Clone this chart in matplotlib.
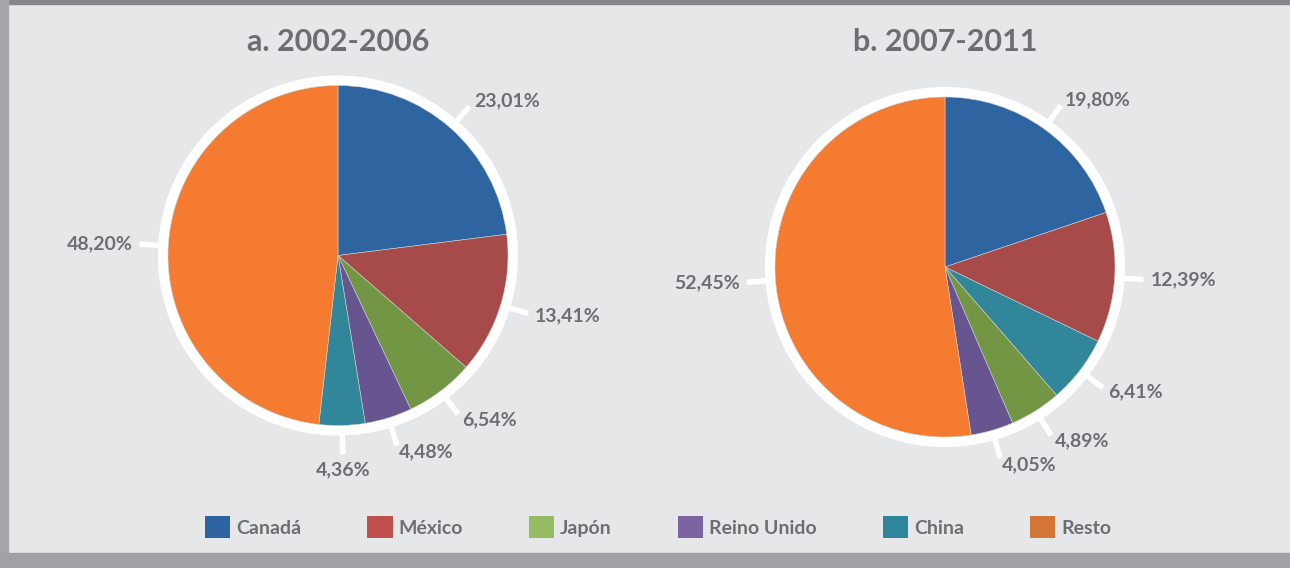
import matplotlib.pyplot as plt
from matplotlib.patches import Circle, Rectangle, Patch
import numpy as np

# datos
paises = ['Canadá', 'México', 'Japón', 'Reino Unido', 'China', 'Resto']
titulo_a = 'a. 2002-2006'
titulo_b = 'b. 2007-2011'
# orden de las porciones en cada periodo
orden_a = ['Canadá', 'México', 'Japón', 'Reino Unido', 'China', 'Resto']
valores_a = [23.01, 13.41, 6.54, 4.48, 4.36, 48.20]
orden_b = ['Canadá', 'México', 'China', 'Japón', 'Reino Unido', 'Resto']
valores_b = [19.80, 12.39, 6.41, 4.89, 4.05, 52.45]

# colores
col_pie = {'Canadá': '#2e64a0', 'México': '#a64a4a', 'Japón': '#729643',
           'Reino Unido': '#66558f', 'China': '#32869a', 'Resto': '#f47b30'}
col_ley = {'Canadá': '#2d63a0', 'México': '#c0504d', 'Japón': '#95bc63',
           'Reino Unido': '#7c64a1', 'China': '#31859b', 'Resto': '#d37534'}
fondo = '#e6e7e9'
gris = '#6d6e71'

plt.rcParams['font.family'] = ['Lato', 'DejaVu Sans']

W, H = 1290, 568
fig = plt.figure(figsize=(W / 100, H / 100), dpi=100)
fig.patch.set_facecolor(fondo)

# marco gris
fig.patches.append(Rectangle((0, 1 - 4 / H), 1, 4 / H, transform=fig.transFigure,
                             color='#86878b', zorder=0))
fig.patches.append(Rectangle((0, 0), 8 / W, 1, transform=fig.transFigure,
                             color='#a5a6aa', zorder=0))
fig.patches.append(Rectangle((0, 0), 1, 15 / H, transform=fig.transFigure,
                             color='#a0a1a5', zorder=0))

R = 170  # radio en pixeles
LIM = 1.4


def dibujar(cx, cy, orden, valores, titulo):
    size = 2 * LIM * R
    ax = fig.add_axes([(cx - size / 2) / W, (H - cy - size / 2) / H, size / W, size / H])
    ax.add_patch(Circle((0, 0), 1.055, color='white', zorder=1))
    wedges, _ = ax.pie(valores, colors=[col_pie[p] for p in orden], startangle=90,
                       counterclock=False, radius=1,
                       wedgeprops=dict(linewidth=0.4, edgecolor='#d0d0d0', zorder=2))
    ax.set_xlim(-LIM, LIM)
    ax.set_ylim(-LIM, LIM)
    ax.set_aspect('equal')
    ax.axis('off')
    for w, v in zip(wedges, valores):
        ang = np.deg2rad((w.theta1 + w.theta2) / 2)
        c, s = np.cos(ang), np.sin(ang)
        ax.plot([1.05 * c, 1.17 * c], [1.05 * s, 1.17 * s], color='white', lw=4,
                solid_capstyle='butt', zorder=3)
        if c > 0.15:
            ha = 'left'
        elif c < -0.15:
            ha = 'right'
        else:
            ha = 'center'
        va = 'top' if (abs(c) <= 0.15 and s < 0) else 'center'
        r = 1.21
        ax.text(r * c, r * s, f'{v:.2f}%'.replace('.', ','), ha=ha, va=va,
                fontsize=14, fontweight='bold', color=gris)
    fig.text(cx / W, 1 - 42 / H, titulo, ha='center', va='center', fontsize=22,
             fontweight='bold', color=gris)


dibujar(338, 255.5, orden_a, valores_a, titulo_a)
dibujar(945, 267, orden_b, valores_b, titulo_b)

handles = [Patch(facecolor=col_ley[p], edgecolor='none') for p in paises]
leg = fig.legend(handles, paises, loc='center', bbox_to_anchor=(658 / W, 1 - 527 / H),
                 ncol=6, frameon=False, fontsize=14, handlelength=1.3, handleheight=1.3,
                 handletextpad=0.3, columnspacing=3.4, borderaxespad=0)
for t in leg.get_texts():
    t.set_color(gris)
    t.set_fontweight('bold')

fig.savefig('out.png', dpi=100, facecolor=fondo)
